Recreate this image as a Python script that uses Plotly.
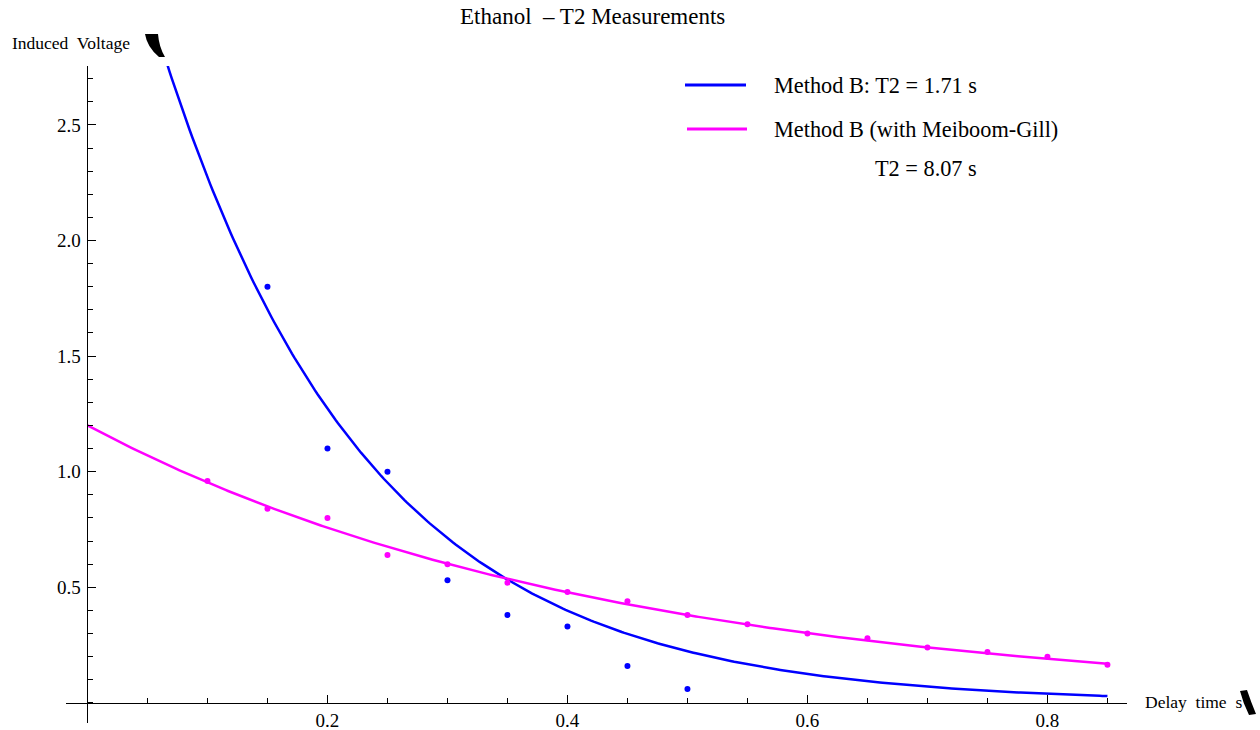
import numpy as np
import plotly.graph_objects as go

# ---- data ----
delay_blue = [0.15, 0.20, 0.25, 0.30, 0.35, 0.40, 0.45, 0.50]
volt_blue = [1.80, 1.10, 1.00, 0.53, 0.38, 0.33, 0.16, 0.06]

delay_mg = [0.10, 0.15, 0.20, 0.25, 0.30, 0.35, 0.40, 0.45, 0.50, 0.55,
            0.60, 0.65, 0.70, 0.75, 0.80, 0.85]
volt_mg = [0.96, 0.84, 0.80, 0.64, 0.60, 0.52, 0.48, 0.44, 0.38, 0.34,
           0.30, 0.28, 0.24, 0.22, 0.20, 0.165]

# fitted exponential models  V(t) = A * exp(-k t)
fit_blue = {"A": 4.06, "k": 5.8}
fit_mg = {"A": 1.20, "k": 2.3}
fit_range = [0.0, 0.85]

x_ticks = [0.2, 0.4, 0.6, 0.8]
x_ticktext = ["0.2", "0.4", "0.6", "0.8"]
y_ticks = [0.5, 1.0, 1.5, 2.0, 2.5]
y_ticktext = ["0.5", "1.0", "1.5", "2.0", "2.5"]

title_text = "Ethanol \u00a0\u2013 T2 Measurements"
ylabel_text = "Induced\u00a0 Voltage"
xlabel_text = "Delay\u00a0 time\u00a0 s"
legend_1 = "Method B: T2 = 1.71 s"
legend_2a = "Method B (with Meiboom-Gill)"
legend_2b = "T2 = 8.07 s"

BLUE = "rgb(0,0,255)"
MAGENTA = "rgb(255,0,255)"
FONT = "Liberation Serif"

# ---- layout geometry (pixels) ----
W, H = 1260, 730
ML, MR, MT, MB = 66, 133, 66, 7
PW, PH = W - ML - MR, H - MT - MB
x_range = [-0.0179, 0.8663]
y_range = [-0.0869, 2.7547]


def px(xp):
    return (xp - ML) / PW


def py(yp):
    return (H - MB - yp) / PH


t = np.linspace(fit_range[0], fit_range[1], 400)

fig = go.Figure()
fig.add_trace(go.Scatter(x=t, y=fit_blue["A"] * np.exp(-fit_blue["k"] * t),
                         mode="lines", line=dict(color=BLUE, width=2.5),
                         showlegend=False, hoverinfo="skip"))
fig.add_trace(go.Scatter(x=t, y=fit_mg["A"] * np.exp(-fit_mg["k"] * t),
                         mode="lines", line=dict(color=MAGENTA, width=2.5),
                         showlegend=False, hoverinfo="skip"))
fig.add_trace(go.Scatter(x=delay_blue, y=volt_blue, mode="markers",
                         marker=dict(color=BLUE, size=6), showlegend=False))
fig.add_trace(go.Scatter(x=delay_mg, y=volt_mg, mode="markers",
                         marker=dict(color=MAGENTA, size=6), showlegend=False))

x0_frac = (0 - y_range[0]) / (y_range[1] - y_range[0])
y0_frac = (0 - x_range[0]) / (x_range[1] - x_range[0])

fig.update_layout(
    width=W, height=H,
    margin=dict(l=ML, r=MR, t=MT, b=MB, pad=0, autoexpand=False),
    paper_bgcolor="white", plot_bgcolor="white",
    font=dict(family=FONT, color="black", size=18),
    showlegend=False,
    xaxis=dict(range=x_range, anchor="free", position=x0_frac, automargin=False,
               showline=True, linecolor="black", linewidth=1,
               showgrid=False, zeroline=False,
               tickmode="array", tickvals=x_ticks, ticktext=x_ticktext,
               ticks="inside", ticklen=8, tickwidth=1, tickcolor="black",
               tickfont=dict(family=FONT, size=19),
               minor=dict(dtick=0.05, tick0=0, ticks="inside", ticklen=5,
                          tickwidth=1, tickcolor="black", showgrid=False)),
    yaxis=dict(range=y_range, anchor="free", position=y0_frac, automargin=False,
               showline=True, linecolor="black", linewidth=1,
               showgrid=False, zeroline=False,
               tickmode="array", tickvals=y_ticks, ticktext=y_ticktext,
               ticks="inside", ticklen=8, tickwidth=1, tickcolor="black",
               tickfont=dict(family=FONT, size=19), ticklabelstandoff=3,
               minor=dict(dtick=0.1, tick0=0, ticks="inside", ticklen=5,
                          tickwidth=1, tickcolor="black", showgrid=False)),
)

ann = [
    dict(text=title_text, x=px(592), y=py(17), xanchor="center", yanchor="middle",
         font=dict(size=23)),
    dict(text=ylabel_text, x=px(10), y=py(43), xanchor="left", yanchor="middle",
         font=dict(size=17.5)),
    dict(text=xlabel_text, x=px(1143), y=py(702), xanchor="left", yanchor="middle",
         font=dict(size=17.5)),
    dict(text=legend_1, x=px(772), y=py(85), xanchor="left", yanchor="middle",
         font=dict(size=22.3)),
    dict(text=legend_2a, x=px(772), y=py(129), xanchor="left", yanchor="middle",
         font=dict(size=22.3)),
    dict(text=legend_2b, x=px(926), y=py(168), xanchor="center", yanchor="middle",
         font=dict(size=22.3)),
]
for a in ann:
    a.update(xref="paper", yref="paper", showarrow=False)
fig.update_layout(annotations=ann)


def path(points):
    s = "M {},{} ".format(px(points[0][0]), py(points[0][1]))
    for p in points[1:]:
        if len(p) == 4:
            s += "Q {},{} {},{} ".format(px(p[0]), py(p[1]), px(p[2]), py(p[3]))
        else:
            s += "L {},{} ".format(px(p[0]), py(p[1]))
    return s + "Z"


shapes = [
    # legend swatches
    dict(type="line", x0=px(685), x1=px(746), y0=py(85), y1=py(85),
         line=dict(color=BLUE, width=3)),
    dict(type="line", x0=px(687), x1=px(747), y0=py(129), y1=py(129),
         line=dict(color=MAGENTA, width=3)),
    # broken-glyph blobs next to axis labels
    dict(type="path", path=path([(145, 34), (158, 34), (159, 47, 165, 57),
                                 (159, 57), (147, 47, 145, 34)]),
         fillcolor="black", line=dict(width=0)),
    dict(type="path", path=path([(1240, 691), (1247, 690), (1251, 702, 1256, 714),
                                 (1249, 715), (1243, 703, 1240, 691)]),
         fillcolor="black", line=dict(width=0)),
]
for s in shapes:
    s.update(xref="paper", yref="paper")
fig.update_layout(shapes=shapes)

fig.write_html(
    "out.html",
    config={"displayModeBar": False},
    post_script="document.body.style.margin='0px';document.body.style.padding='0px';",
)
